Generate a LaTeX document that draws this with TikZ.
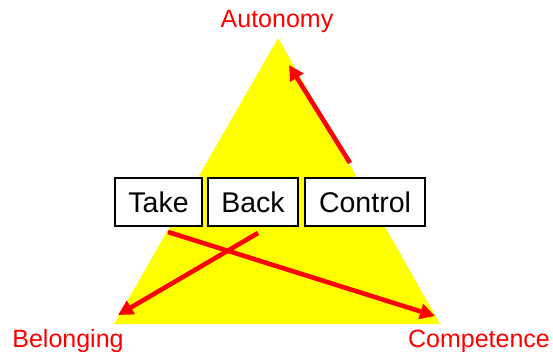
\documentclass[tikz,border=0pt]{standalone}
\usepackage{fontspec}
\setmainfont{Liberation Sans}
\usetikzlibrary{arrows.meta}
\definecolor{pureyellow}{RGB}{255,255,0}
\definecolor{purered}{RGB}{255,0,0}
\begin{document}
\begin{tikzpicture}[x=1pt,y=-1pt,
  corner/.style={text=purered,font=\fontsize{25}{29}\selectfont,anchor=base,inner sep=0pt},
  word/.style={draw=black,line width=1.3pt,fill=white,font=\fontsize{28.5}{32}\selectfont,minimum height=48pt,inner sep=0pt},
  redarrow/.style={draw=purered,line width=4.6pt,-{Triangle[length=15pt,width=15pt]}}]
\useasboundingbox (0,0) rectangle (553,352);
\fill[pureyellow] (278,38) -- (440,324) -- (114,324) -- cycle;
\node[corner] (aut) at (277,28) {Autonomy};
\node[corner] (bel) at (68,347) {Belonging};
\node[corner] (com) at (479,347) {Competence};
\node[word,minimum width=87pt] (take) at (158.5,202) {Take};
\node[word,minimum width=90pt] (back) at (253,202) {Back};
\node[word,minimum width=120pt] (ctrl) at (365,202) {Control};
\coordinate (s1) at (350,163);
\coordinate (e1) at (289,65);
\coordinate (s2) at (258,233);
\coordinate (e2) at (118,315);
\coordinate (s3) at (168,232);
\coordinate (e3) at (435,316);
\draw[redarrow] (s1) -- (e1);
\draw[redarrow] (s2) -- (e2);
\draw[redarrow] (s3) -- (e3);
\end{tikzpicture}
\end{document}
